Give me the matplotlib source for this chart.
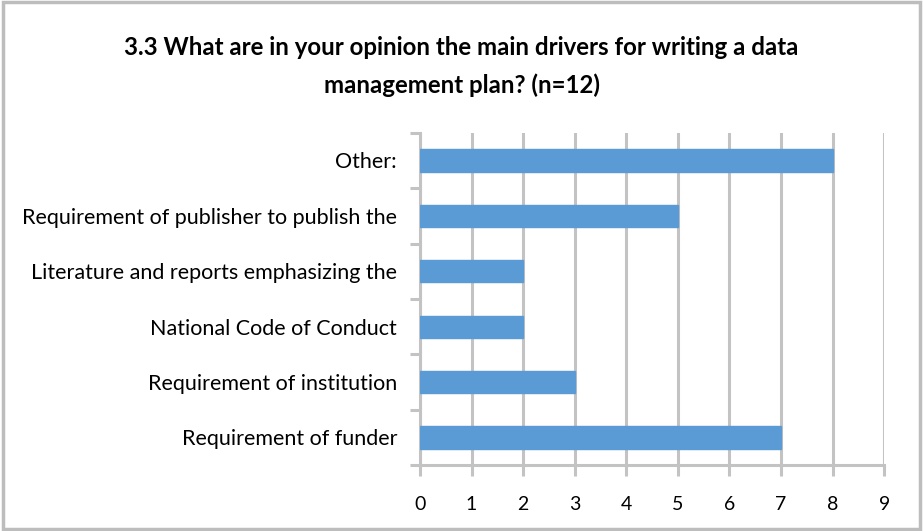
import matplotlib
matplotlib.use("Agg")
import matplotlib.pyplot as plt
import numpy as np

# data, bottom to top
categories = ["Requirement of funder", "Requirement of institution",
              "National Code of Conduct", "Literature and reports emphasizing the",
              "Requirement of publisher to publish the", "Other:"]
counts = [7, 3, 2, 2, 5, 8]
xticks = list(range(0, 10))

plt.rcParams['font.family'] = ['Lato', 'DejaVu Sans']

fig = plt.figure(figsize=(9.23, 5.31), dpi=100)
ax = fig.add_axes([0.455, 0.124, 0.503, 0.626])

grid_c = '#c3c3c3'
y = np.arange(len(categories))
ax.set_axisbelow(True)
ax.xaxis.grid(True, color=grid_c, linewidth=2.2)
ax.barh(y, counts, height=0.4, color='#5b9bd5', edgecolor='#5b9bd5', zorder=3)

ax.set_xlim(0, 9)
ax.set_ylim(-0.5, len(categories) - 0.5)
ax.set_xticks(xticks)
ax.set_yticks(y)
ax.set_yticklabels(categories, fontsize=15.5)
ax.set_yticks(np.arange(-0.5, len(categories)), minor=True)
ax.tick_params(axis='x', length=8, width=2.2, color=grid_c, labelsize=14, pad=14)
ax.tick_params(axis='y', which='major', length=0, pad=16.5)
ax.tick_params(axis='y', which='minor', length=7, width=2.2, color=grid_c)

for s in ['top', 'right']:
    ax.spines[s].set_visible(False)
for s in ['left', 'bottom']:
    ax.spines[s].set_color(grid_c)
    ax.spines[s].set_linewidth(2.2)

fig.text(0.5, 0.91, "3.3 What are in your opinion the main drivers for writing a data",
         ha='center', va='center', fontsize=17.3, fontweight='bold')
fig.text(0.5, 0.84, "management plan? (n=12)",
         ha='center', va='center', fontsize=17.3, fontweight='bold')

border = plt.Rectangle((0.003, 0.004), 0.994, 0.992, transform=fig.transFigure,
                       fill=False, edgecolor='#bdbdbd', linewidth=2.5)
fig.patches.append(border)

fig.savefig("out.png", dpi=100)
